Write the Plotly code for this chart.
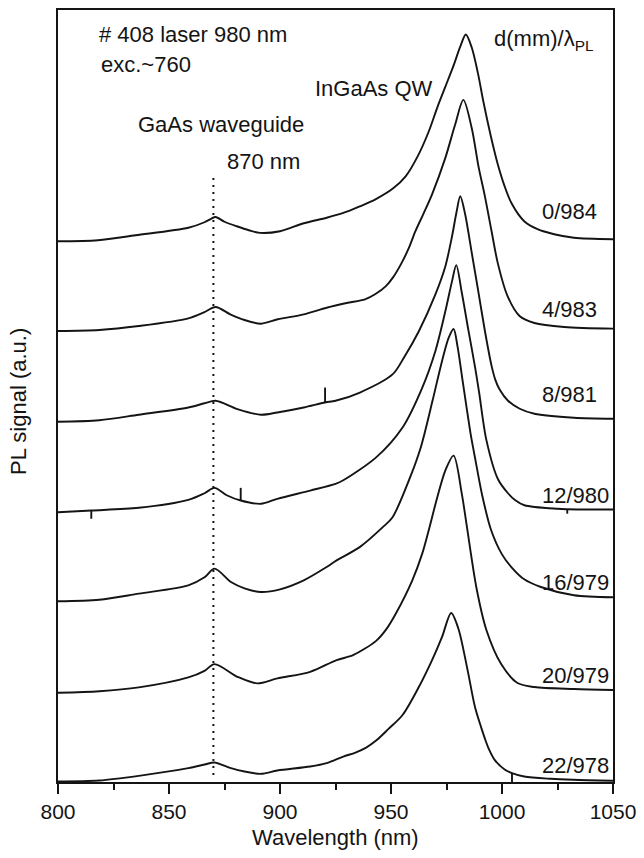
import plotly.graph_objects as go

# PL spectra along the sample: label = position d (mm) / PL peak wavelength (nm)
CURVE_LABELS = ["0/984", "4/983", "8/981", "12/980", "16/979", "20/979", "22/978"]
# vertical offset of each spectrum (a.u.)
OFFSETS = [5.417, 4.517, 3.607, 2.700, 1.807, 0.890, 0.0]
# y position (a.u.) of each spectrum's label
LABEL_Y = [5.715, 4.735, 3.885, 2.865, 1.995, 1.065, 0.165]

WL_0 = [800, 818, 835, 858.7, 866, 869, 871, 875, 880.5, 886, 891, 900, 910.7, 921, 928.5,
        936, 943, 951, 956.6, 962, 967, 971, 974.5, 978, 981.2, 983.7, 986.4, 989.2, 991.6,
        995, 998, 1001.2, 1004.3, 1010, 1016, 1023.5, 1032.4, 1050]
PL_0 = [0, 0.01, 0.06, 0.135, 0.19, 0.225, 0.242, 0.195, 0.15, 0.11, 0.083, 0.10, 0.18, 0.235, 0.283,
        0.35, 0.42, 0.53, 0.65, 0.85, 1.10, 1.35, 1.55, 1.75, 1.95, 2.073, 1.94, 1.68, 1.40,
        1.05, 0.78, 0.55, 0.38, 0.20, 0.12, 0.07, 0.035, 0.02]

WL_4 = [800, 818.6, 836.4, 858.7, 866, 871, 877.6, 884, 891.5, 899, 910.7, 921, 930, 938.3,
        943, 947.7, 951, 954.5, 958, 961, 964.5, 968.5, 974.4, 978.9, 982.6, 986.4, 989.4,
        992.3, 995.3, 998.1, 1002.5, 1007.9, 1014.6, 1028, 1050]
PL_4 = [0, 0.01, 0.05, 0.127, 0.19, 0.24, 0.167, 0.11, 0.073, 0.117, 0.167, 0.233, 0.28, 0.317,
        0.37, 0.45, 0.54, 0.67, 0.83, 1.00, 1.17, 1.37, 1.73, 2.07, 2.317, 2.03, 1.65,
        1.35, 1.00, 0.68, 0.35, 0.15, 0.08, 0.04, 0.023]

WL_8 = [800, 818.6, 836.4, 858.7, 866, 871, 880.8, 891.4, 898.8, 910.7, 920.3,
        925, 936, 950.8, 956, 962.6, 970, 974.5, 977.5, 979.5, 981.2, 983.4, 986.4, 989.3,
        992.3, 995.3, 997, 999, 1002.7, 1008, 1014.6, 1032.4, 1050]
PL_8 = [0, 0.015, 0.07, 0.143, 0.185, 0.21, 0.127, 0.07, 0.093, 0.143, 0.193,
        0.21, 0.293, 0.477, 0.65, 0.91, 1.277, 1.56, 1.86, 2.10, 2.26, 2.08, 1.69, 1.31,
        0.91, 0.56, 0.42, 0.32, 0.21, 0.13, 0.08, 0.04, 0.03]

WL_12 = [800, 815, 836.4, 858.7, 866, 870.5, 876, 882.3, 891.4,
         898.8, 913.6, 925, 928.5, 943.3, 955.2, 964.1, 970, 974.5, 977.5, 979.4, 981.9, 984.9,
         987.9, 989.7, 993, 998.2, 1002.7, 1006, 1010.1, 1025, 1029.4, 1050]
PL_12 = [0, 0.017, 0.044, 0.124, 0.19, 0.244, 0.17, 0.117, 0.084,
         0.134, 0.217, 0.284, 0.32, 0.55, 0.85, 1.25, 1.617, 2.017, 2.317, 2.477, 2.20, 1.82,
         1.45, 1.20, 0.72, 0.33, 0.19, 0.12, 0.07, 0.034, 0.03, 0.027]

WL_16 = [800, 818.6, 836.4, 858.7, 866, 870.5, 877.9, 884, 891.4, 900, 910.7, 921, 925.5,
         935.9, 946.3, 950.7, 958.9, 963.5, 968.7, 973, 976, 978.2, 980, 982, 984, 986, 988,
         991, 995, 1000, 1004.2, 1010, 1017.5, 1032.4, 1050]
PL_16 = [0, 0.015, 0.077, 0.16, 0.24, 0.327, 0.193, 0.13, 0.093, 0.12, 0.21, 0.343, 0.41,
         0.543, 0.743, 0.843, 1.26, 1.55, 2.01, 2.41, 2.643, 2.73, 2.55, 2.25, 1.95, 1.66, 1.42,
         1.07, 0.72, 0.47, 0.343, 0.22, 0.143, 0.06, 0.04]

WL_20 = [800, 818.6, 836.4, 858.7, 866, 870.5, 880.8, 889.7, 898.8, 913.6, 925.5, 932.9,
         943.3, 948, 952.2, 959.6, 964.1, 967, 970.5, 974.5, 978.2, 981.9, 984.1, 988.5, 993,
         999.7, 1007, 1014.6, 1032.4, 1050]
PL_20 = [0, 0.015, 0.054, 0.154, 0.22, 0.287, 0.16, 0.094, 0.144, 0.21, 0.327, 0.377,
         0.52, 0.64, 0.794, 1.127, 1.397, 1.63, 1.93, 2.23, 2.377, 1.994, 1.677, 1.05, 0.627,
         0.285, 0.097, 0.057, 0.037, 0.027]

WL_22 = [800, 818.6, 836.4, 858.7, 866, 870.5, 877.9, 884, 891.4, 898.8, 913.6, 921, 928.5,
         934, 938.8, 943.3, 949, 955.2, 962.6, 968.5, 973, 977.1, 980.3, 984.5, 987.8, 990.8,
         992.3, 994, 996.6, 1001.2, 1004.5, 1010, 1022, 1032, 1050]
PL_22 = [0, 0.01, 0.057, 0.134, 0.17, 0.19, 0.134, 0.10, 0.077, 0.11, 0.15, 0.184, 0.25,
         0.29, 0.34, 0.41, 0.53, 0.667, 0.95, 1.217, 1.45, 1.69, 1.537, 1.117, 0.75, 0.53,
         0.43, 0.33, 0.22, 0.12, 0.085, 0.05, 0.027, 0.017, 0.007]

WAVELENGTHS = [WL_0, WL_4, WL_8, WL_12, WL_16, WL_20, WL_22]
INTENSITIES = [PL_0, PL_4, PL_8, PL_12, PL_16, PL_20, PL_22]

# single-channel glitches in the recorded spectra: curve index, wavelength, level, tip
SPIKE_CURVE = [2, 3, 3, 3, 6]
SPIKE_WL = [920.3, 815, 882.3, 1029.4, 1004.5]
SPIKE_LEVEL = [0.193, 0.017, 0.117, 0.03, 0.085]
SPIKE_TIP = [0.343, -0.066, 0.244, -0.015, -0.01]

GAAS_NM = 870               # GaAs waveguide emission marker
GAAS_SPAN = [0.065, 6.065]  # vertical extent of the marker (a.u.)

X_RANGE = [800, 1050]
Y_RANGE = [-0.005, 7.735]

FONT = "Liberation Sans, Arial, Helvetica, sans-serif"
INK = "#141414"
FS = 22

fig = go.Figure()

for wl, pl, off in zip(WAVELENGTHS, INTENSITIES, OFFSETS):
    fig.add_trace(go.Scatter(
        x=wl, y=[v + off for v in pl], mode="lines",
        line=dict(color=INK, width=1.9, shape="spline", smoothing=0.85),
        hoverinfo="skip", showlegend=False,
    ))

# glitches drawn as short vertical strokes
sx, sy = [], []
for ci, w, lv, tp in zip(SPIKE_CURVE, SPIKE_WL, SPIKE_LEVEL, SPIKE_TIP):
    sx += [w, w, None]
    sy += [lv + OFFSETS[ci], tp + OFFSETS[ci], None]
fig.add_trace(go.Scatter(x=sx, y=sy, mode="lines", line=dict(color=INK, width=1.9),
                         hoverinfo="skip", showlegend=False))

# dotted marker at the GaAs waveguide line
fig.add_trace(go.Scatter(
    x=[GAAS_NM, GAAS_NM], y=GAAS_SPAN, mode="lines",
    line=dict(color=INK, width=2, dash="2px,5px"),
    hoverinfo="skip", showlegend=False,
))

annotations = []
for lab, ly in zip(CURVE_LABELS, LABEL_Y):
    annotations.append(dict(x=1017, y=ly, xref="x", yref="y", text=lab,
                            xanchor="left", yanchor="middle", showarrow=False))

extra = [
    dict(x=817.5, y=7.485, text="# 408 laser 980 nm"),
    dict(x=818.5, y=7.185, text="exc.~760"),
    dict(x=915.0, y=6.945, text="InGaAs QW"),
    dict(x=835.0, y=6.585, text="GaAs waveguide"),
    dict(x=875.0, y=6.215, text="870 nm"),
    dict(x=995.5, y=7.43, text="d(mm)/λ<sub>PL</sub>"),
]
for a in extra:
    a.update(xref="x", yref="y", xanchor="left", yanchor="middle", showarrow=False)
annotations += extra

# axis titles
annotations.append(dict(x=0.5, y=-0.072, xref="paper", yref="paper",
                        text="Wavelength (nm)", showarrow=False,
                        xanchor="center", yanchor="middle"))
annotations.append(dict(x=-0.0712, y=0.493, xref="paper", yref="paper",
                        text="PL signal (a.u.)", textangle=-90, showarrow=False,
                        xanchor="center", yanchor="middle"))

fig.update_layout(
    width=644, height=858,
    margin=dict(l=58, r=24, t=8, b=76),
    paper_bgcolor="white", plot_bgcolor="white",
    font=dict(family=FONT, size=FS, color=INK),
    annotations=annotations,
    showlegend=False,
)

fig.update_xaxes(
    range=X_RANGE, tickmode="linear", tick0=800, dtick=50,
    ticks="outside", ticklen=10, tickwidth=1.5, tickcolor=INK,
    minor=dict(ticks="outside", ticklen=6, tickwidth=1.5, tickcolor=INK, dtick=25, tick0=800),
    showline=True, linecolor=INK, linewidth=1.5, mirror=True,
    showgrid=False, zeroline=False,
    tickfont=dict(family=FONT, size=21, color=INK),
    ticklabeloverflow="allow",
)
fig.update_yaxes(
    range=Y_RANGE, showticklabels=False, ticks="",
    showline=True, linecolor=INK, linewidth=1.5, mirror=True,
    showgrid=False, zeroline=False,
)

fig.write_html("out.html")
